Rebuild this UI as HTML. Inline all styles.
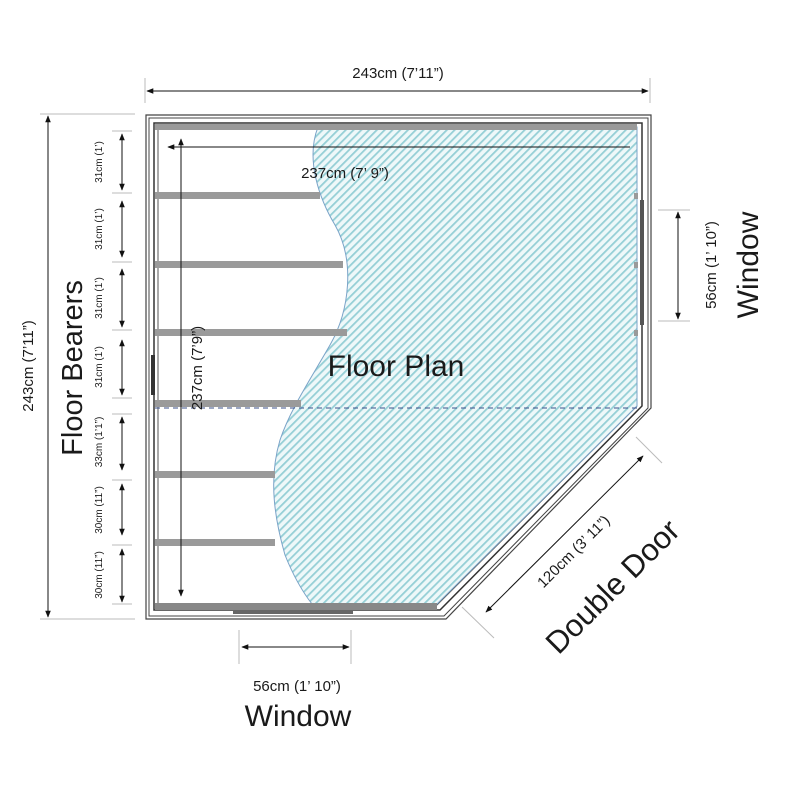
<!DOCTYPE html>
<html><head><meta charset="utf-8"><style>
html,body{margin:0;padding:0;background:#fff}
svg{display:block}
text{font-family:"Liberation Sans",sans-serif;fill:#1a1a1a}
</style></head><body>
<svg width="800" height="800" viewBox="0 0 800 800" xmlns="http://www.w3.org/2000/svg">
<defs>
<pattern id="h" width="5.5" height="5.5" patternUnits="userSpaceOnUse" patternTransform="rotate(45)">
<rect width="5.5" height="5.5" fill="#eef8f9"/>
<rect width="1.8" height="5.5" fill="#95cfd6"/>
</pattern>
<marker id="a" viewBox="0 0 10 10" refX="9" refY="5" markerWidth="7" markerHeight="7" orient="auto-start-reverse"><path d="M0,1 L10,5 L0,9 z" fill="#111"/></marker>
</defs>

<path d="M146,115 L651,115 L651,408 L446,619 L146,619 Z" fill="none" stroke="#444" stroke-width="1.2"/>
<path d="M149,118 L648,118 L648,408 L444,616 L149,616 Z" fill="none" stroke="#444" stroke-width="1"/>
<path d="M154,123 L642,123 L642,406 L440,610 L154,610 Z" fill="none" stroke="#333" stroke-width="1.5"/>
<path d="M158,127 L637,127 L637,406 L437,605 L158,605 Z" fill="none" stroke="#555" stroke-width="1"/>

<path d="M318,127 C305,160 320,200 335,225 C355,260 350,310 330,345 C310,380 290,410 280,440 C268,480 275,520 285,555 C295,580 305,595 312,604 L437,604 L637,406 L637,127 Z" fill="url(#h)" stroke="#7aa3c8" stroke-width="1"/>

<g fill="#9a9a9a">
<rect x="155" y="124" width="482" height="6"/>
<rect x="155" y="192" width="165" height="7"/>
<rect x="155" y="261" width="188" height="7"/>
<rect x="155" y="329" width="192" height="7"/>
<rect x="155" y="400" width="146" height="7"/>
<rect x="155" y="471" width="120" height="7"/>
<rect x="155" y="539" width="120" height="7"/>
<rect x="155" y="603" width="282" height="7" fill="#888"/>
<rect x="634" y="193" width="4" height="6"/><rect x="634" y="262" width="4" height="6"/><rect x="634" y="330" width="4" height="6"/>
</g>
<rect x="233" y="611" width="120" height="3" fill="#666"/>
<rect x="640" y="200" width="4" height="125" fill="#555"/>
<rect x="151" y="355" width="4" height="40" fill="#333"/>
<line x1="155" y1="408" x2="637" y2="408" stroke="#3a4f8a" stroke-width="1" stroke-dasharray="5,4"/>

<g stroke="#bbb" stroke-width="1"><line x1="145" y1="78" x2="145" y2="103"/><line x1="650" y1="78" x2="650" y2="103"/></g>
<line x1="147" y1="91" x2="648" y2="91" stroke="#111" marker-start="url(#a)" marker-end="url(#a)"/>
<text x="398" y="78" font-size="15" text-anchor="middle">243cm (7’11”)</text>

<g stroke="#bbb"><line x1="40" y1="114" x2="135" y2="114"/><line x1="40" y1="619" x2="135" y2="619"/></g>
<line x1="48" y1="116" x2="48" y2="617" stroke="#111" marker-start="url(#a)" marker-end="url(#a)"/>
<text transform="translate(33,366) rotate(-90)" font-size="15" text-anchor="middle">243cm (7’11”)</text>
<text transform="translate(82,368) rotate(-90)" font-size="29" text-anchor="middle">Floor Bearers</text>

<g stroke="#bbb"><line x1="112" y1="131" x2="132" y2="131"/><line x1="112" y1="193" x2="132" y2="193"/><line x1="112" y1="262" x2="132" y2="262"/><line x1="112" y1="330" x2="132" y2="330"/><line x1="112" y1="398" x2="132" y2="398"/><line x1="112" y1="414" x2="132" y2="414"/><line x1="112" y1="480" x2="132" y2="480"/><line x1="112" y1="545" x2="132" y2="545"/><line x1="112" y1="604" x2="132" y2="604"/></g>
<g stroke="#111" marker-start="url(#a)" marker-end="url(#a)">
<line x1="122" y1="134" x2="122" y2="190"/><line x1="122" y1="201" x2="122" y2="257"/><line x1="122" y1="269" x2="122" y2="327"/><line x1="122" y1="340" x2="122" y2="395"/><line x1="122" y1="417" x2="122" y2="470"/><line x1="122" y1="484" x2="122" y2="535"/><line x1="122" y1="549" x2="122" y2="602"/>
</g>
<g font-size="10" text-anchor="middle" style="fill:#555">
<text transform="translate(102,162) rotate(-90)">31cm (1’)</text>
<text transform="translate(102,229) rotate(-90)">31cm (1’)</text>
<text transform="translate(102,298) rotate(-90)">31cm (1’)</text>
<text transform="translate(102,367) rotate(-90)">31cm (1’)</text>
<text transform="translate(102,442) rotate(-90)">33cm (1’1”)</text>
<text transform="translate(102,510) rotate(-90)">30cm (11”)</text>
<text transform="translate(102,575) rotate(-90)">30cm (11”)</text>
</g>

<line x1="168" y1="147" x2="630" y2="147" stroke="#111" marker-start="url(#a)"/>
<text x="345" y="178" font-size="15" text-anchor="middle">237cm (7’ 9”)</text>
<line x1="181" y1="139" x2="181" y2="596" stroke="#111" marker-start="url(#a)" marker-end="url(#a)"/>
<text transform="translate(202,368) rotate(-90)" font-size="15" text-anchor="middle">237cm (7’9”)</text>
<text x="396" y="376" font-size="30" text-anchor="middle">Floor Plan</text>

<g stroke="#bbb"><line x1="658" y1="210" x2="690" y2="210"/><line x1="658" y1="321" x2="690" y2="321"/></g>
<line x1="678" y1="212" x2="678" y2="319" stroke="#111" marker-start="url(#a)" marker-end="url(#a)"/>
<text transform="translate(716,265) rotate(-90)" font-size="15" text-anchor="middle">56cm (1’ 10”)</text>
<text transform="translate(758,265) rotate(-90)" font-size="30" text-anchor="middle">Window</text>

<g stroke="#bbb"><line x1="239" y1="630" x2="239" y2="664"/><line x1="351" y1="630" x2="351" y2="664"/></g>
<line x1="242" y1="647" x2="349" y2="647" stroke="#111" marker-start="url(#a)" marker-end="url(#a)"/>
<text x="297" y="691" font-size="15" text-anchor="middle">56cm (1’ 10”)</text>
<text x="298" y="726" font-size="30" text-anchor="middle">Window</text>

<g stroke="#bbb"><line x1="636" y1="437" x2="662" y2="463"/><line x1="462" y1="607" x2="494" y2="638"/></g>
<line x1="486" y1="612" x2="643" y2="456" stroke="#111" marker-start="url(#a)" marker-end="url(#a)"/>
<text transform="translate(577,555) rotate(-45)" font-size="15" text-anchor="middle">120cm (3’ 11”)</text>
<text transform="translate(620,594) rotate(-45)" font-size="31" text-anchor="middle">Double Door</text>
</svg>
</body></html>
